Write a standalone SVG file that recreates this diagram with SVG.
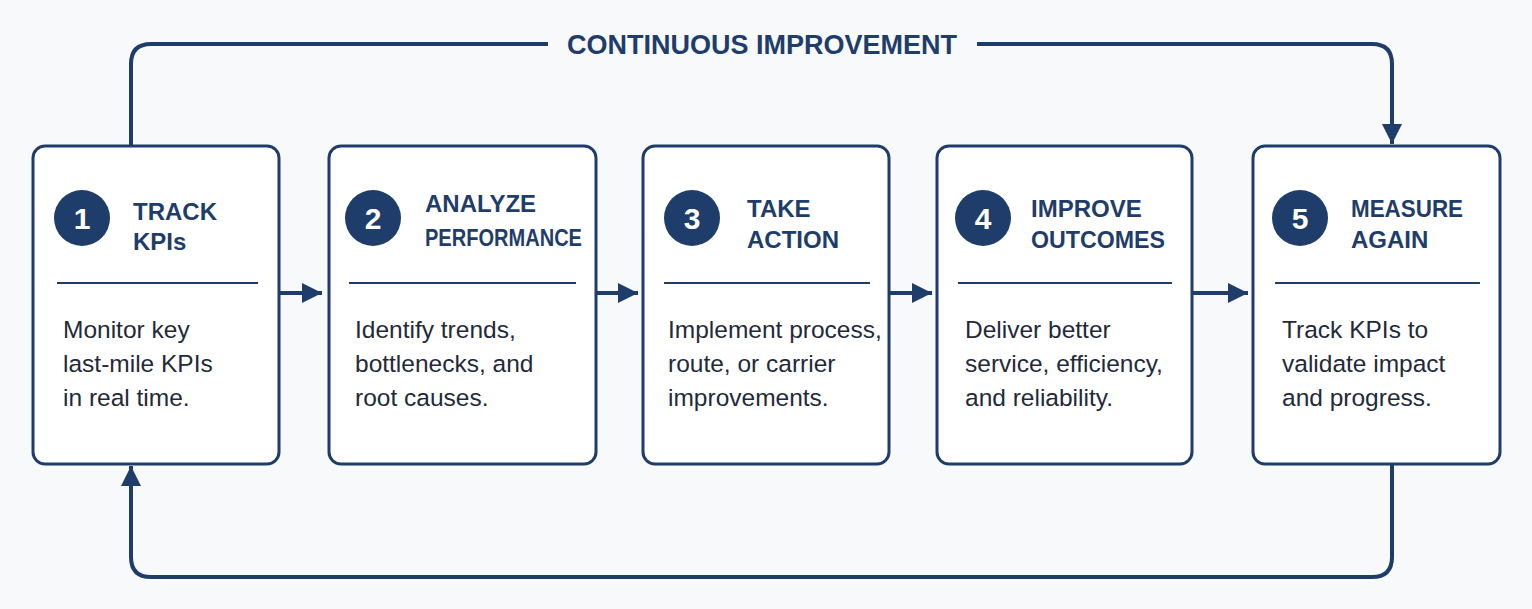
<svg xmlns="http://www.w3.org/2000/svg" width="1532" height="609" viewBox="0 0 1532 609">
<style>
.box{fill:#fff;stroke:#1f3d6b;stroke-width:3}
.num{fill:#1f3d6b}
.nt{fill:#fff;font:bold 30px "Liberation Sans",Arial,sans-serif;text-anchor:middle}
.ti{fill:#1f3d6b;font:bold 24px "Liberation Sans",Arial,sans-serif}
.bd{fill:#1f2a3a;font:24.5px "Liberation Sans",Arial,sans-serif}
.dv{stroke:#1f3d6b;stroke-width:2}
.ln{fill:none;stroke:#1f3d6b;stroke-width:4}
</style>
<defs><marker id="ah" markerWidth="5" markerHeight="5" refX="5" refY="2.5" orient="auto"><path d="M0,0L5,2.5L0,5z" fill="#1f3d6b"/></marker></defs>
<rect width="1532" height="609" fill="#f8f9fb"/>
<g id="connectors">
<path class="ln" d="M131,146V64Q131,44,151,44H548M977,44H1372Q1392,44,1392,64V144" marker-end="url(#ah)"/>
<path class="ln" d="M1392,464V557Q1392,577,1372,577H151Q131,577,131,557V466" marker-end="url(#ah)"/>
<path class="ln" d="M279,293H322" marker-end="url(#ah)"/>
<path class="ln" d="M596,293H638" marker-end="url(#ah)"/>
<path class="ln" d="M889,293H932" marker-end="url(#ah)"/>
<path class="ln" d="M1192,293H1248" marker-end="url(#ah)"/>
<text x="762" y="54" text-anchor="middle" style="fill:#1f3d6b;font:bold 27px 'Liberation Sans',Arial,sans-serif">CONTINUOUS IMPROVEMENT</text>
</g>
<g id="n1"><rect class="box" x="33" y="146" width="246" height="318" rx="12"/><circle class="num" cx="82" cy="218" r="28"/><text class="nt" x="82" y="229">1</text><text class="ti" x="133" y="220">TRACK</text><text class="ti" x="133" y="250">KPIs</text><line class="dv" x1="57" y1="283" x2="258" y2="283"/><text class="bd" x="63" y="338">Monitor key</text><text class="bd" x="63" y="372">last-mile KPIs</text><text class="bd" x="63" y="406">in real time.</text></g>
<g id="n2"><rect class="box" x="329" y="146" width="267" height="318" rx="12"/><circle class="num" cx="373" cy="218" r="28"/><text class="nt" x="373" y="229">2</text><text class="ti" x="425" y="212">ANALYZE</text><text class="ti" x="425" y="246" textLength="157" lengthAdjust="spacingAndGlyphs">PERFORMANCE</text><line class="dv" x1="349" y1="283" x2="576" y2="283"/><text class="bd" x="355" y="338">Identify trends,</text><text class="bd" x="355" y="372">bottlenecks, and</text><text class="bd" x="355" y="406">root causes.</text></g>
<g id="n3"><rect class="box" x="643" y="146" width="246" height="318" rx="12"/><circle class="num" cx="692" cy="218" r="28"/><text class="nt" x="692" y="229">3</text><text class="ti" x="747" y="217">TAKE</text><text class="ti" x="747" y="248">ACTION</text><line class="dv" x1="664" y1="283" x2="870" y2="283"/><text class="bd" x="668" y="338">Implement process,</text><text class="bd" x="668" y="372">route, or carrier</text><text class="bd" x="668" y="406">improvements.</text></g>
<g id="n4"><rect class="box" x="937" y="146" width="255" height="318" rx="12"/><circle class="num" cx="983" cy="218" r="28"/><text class="nt" x="983" y="229">4</text><text class="ti" x="1031" y="217">IMPROVE</text><text class="ti" x="1031" y="248" textLength="134" lengthAdjust="spacingAndGlyphs">OUTCOMES</text><line class="dv" x1="958" y1="283" x2="1172" y2="283"/><text class="bd" x="965" y="338">Deliver better</text><text class="bd" x="965" y="372">service, efficiency,</text><text class="bd" x="965" y="406">and reliability.</text></g>
<g id="n5"><rect class="box" x="1253" y="146" width="247" height="318" rx="12"/><circle class="num" cx="1300" cy="218" r="28"/><text class="nt" x="1300" y="229">5</text><text class="ti" x="1351" y="217" textLength="112" lengthAdjust="spacingAndGlyphs">MEASURE</text><text class="ti" x="1351" y="248">AGAIN</text><line class="dv" x1="1275" y1="283" x2="1480" y2="283"/><text class="bd" x="1282" y="338">Track KPIs to</text><text class="bd" x="1282" y="372">validate impact</text><text class="bd" x="1282" y="406">and progress.</text></g>
</svg>
